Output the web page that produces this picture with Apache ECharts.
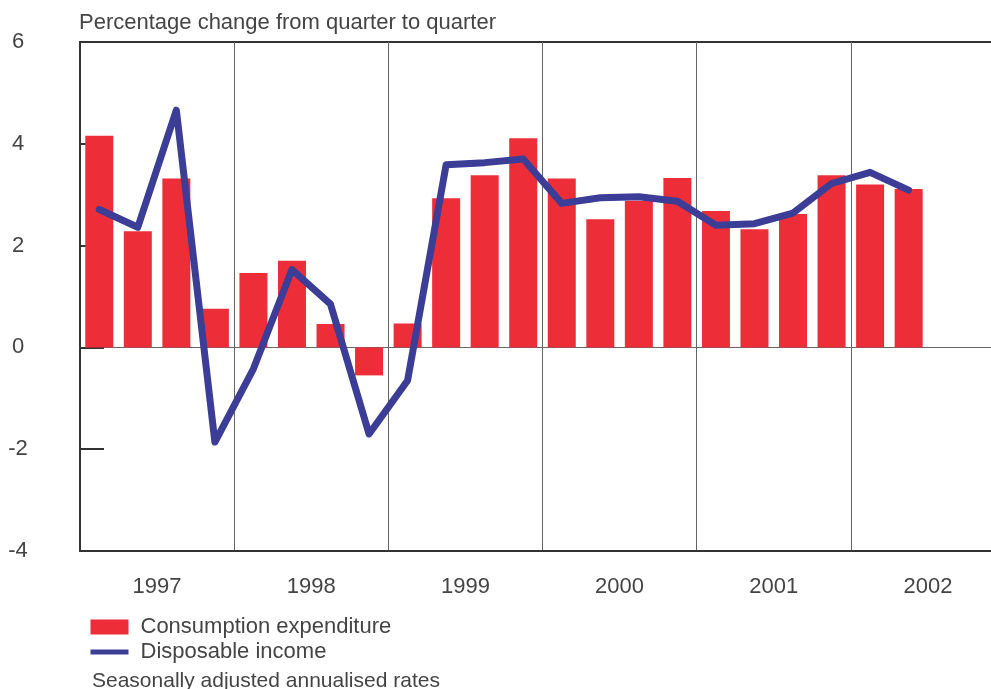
<!DOCTYPE html>
<html>
<head>
<meta charset="utf-8">
<script src="https://cdn.jsdelivr.net/npm/echarts@6/dist/echarts.min.js"></script>
<style>
html,body{margin:0;padding:0;background:#fff;}
#chart{width:991px;height:689px;}
</style>
</head>
<body>
<div id="chart"></div>
<script>
var quarters = ['1997Q1','1997Q2','1997Q3','1997Q4','1998Q1','1998Q2','1998Q3','1998Q4',
  '1999Q1','1999Q2','1999Q3','1999Q4','2000Q1','2000Q2','2000Q3','2000Q4',
  '2001Q1','2001Q2','2001Q3','2001Q4','2002Q1','2002Q2','2002Q3','2002Q4'];
var years = ['1997','1998','1999','2000','2001','2002'];
var consumption = [4.16, 2.28, 3.32, 0.76, 1.46, 1.70, 0.46, -0.55, 0.47, 2.93, 3.38, 4.11,
  3.32, 2.52, 2.88, 3.33, 2.68, 2.32, 2.62, 3.38, 3.20, 3.11];
var income = [2.71, 2.36, 4.66, -1.86, -0.42, 1.53, 0.85, -1.70, -0.65, 3.59, 3.63, 3.70,
  2.83, 2.94, 2.96, 2.87, 2.40, 2.43, 2.64, 3.22, 3.44, 3.09];
var yTicks = {min: -4, max: 6, interval: 2};
var titleText = 'Percentage change from quarter to quarter';
var noteText = 'Seasonally adjusted annualised rates';
var seriesNames = ['Consumption expenditure', 'Disposable income'];

var FONT = 'Liberation Sans';
var TXT = '#444';
var chart = echarts.init(document.getElementById('chart'));
chart.setOption({
  animation: false,
  backgroundColor: '#fff',
  title: [
    {text: titleText, left: 79, top: 12, padding: 0,
     textStyle: {fontFamily: FONT, fontSize: 22, fontWeight: 'normal', color: TXT}},
    {text: noteText, left: 92, top: 671, padding: 0,
     textStyle: {fontFamily: FONT, fontSize: 21, fontWeight: 'normal', color: TXT}}
  ],
  legend: {
    orient: 'vertical', left: 88, top: 616, padding: 0,
    itemWidth: 38, itemHeight: 15, itemGap: 3,
    textStyle: {fontFamily: FONT, fontSize: 22, color: TXT, padding: [0,0,0,7]},
    lineStyle: {width: 5, cap: 'butt'},
    data: [{name: seriesNames[0], icon: 'rect'},
           {name: seriesNames[1], itemStyle: {opacity: 0}, lineStyle: {width: 5, cap: 'butt'}}]
  },
  grid: {left: 80, right: -14, top: 42, bottom: 138, outerBoundsMode: 'none',
         show: true, borderColor: '#333', borderWidth: 2, backgroundColor: 'transparent'},
  xAxis: [
    {type: 'category', data: quarters, boundaryGap: true,
     axisLine: {show: true, onZero: true, lineStyle: {color: '#666', width: 1}},
     axisTick: {show: false}, axisLabel: {show: false}, splitLine: {show: false}},
    {type: 'category', data: years, position: 'bottom', boundaryGap: true,
     axisLine: {show: true, onZero: false, lineStyle: {color: '#333', width: 2}},
     axisTick: {show: false},
     axisLabel: {show: true, margin: 25, fontFamily: FONT, fontSize: 22, color: TXT},
     splitLine: {show: true, interval: 0, lineStyle: {color: '#666', width: 1}}}
  ],
  yAxis: {
    type: 'value', min: yTicks.min, max: yTicks.max, interval: yTicks.interval,
    axisLine: {show: true, lineStyle: {color: '#333', width: 2}},
    axisTick: {show: true, inside: true, length: 24, lineStyle: {color: '#333', width: 2}},
    axisLabel: {margin: 62, align: 'center', fontFamily: FONT, fontSize: 22, color: TXT},
    splitLine: {show: false}
  },
  series: [
    {name: seriesNames[0], type: 'bar', xAxisIndex: 0, data: consumption, barWidth: 28,
     itemStyle: {color: '#ed2e38'}, z: 2},
    {name: seriesNames[1], type: 'line', xAxisIndex: 0, data: income, symbol: 'none',
     lineStyle: {color: '#3b3d96', width: 7, join: 'round', cap: 'round'},
     itemStyle: {color: '#3b3d96'}, z: 3}
  ]
});
</script>
</body>
</html>
